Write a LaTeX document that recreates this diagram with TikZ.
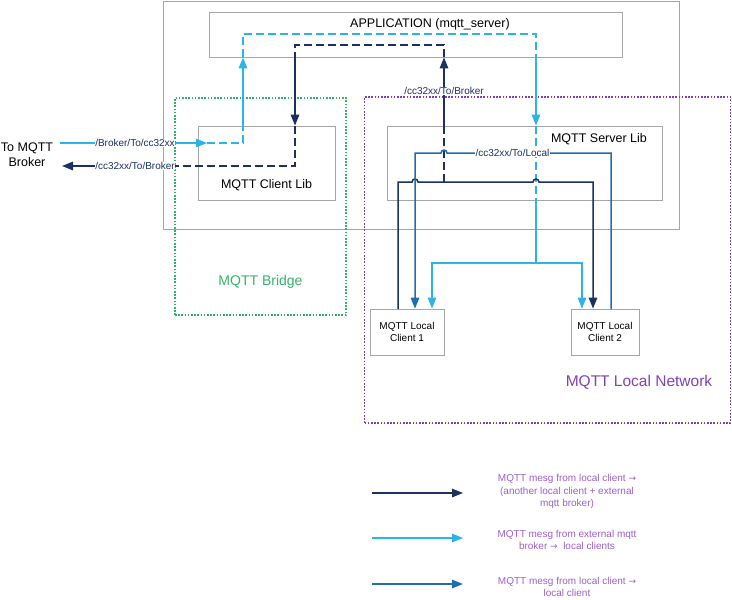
\documentclass[tikz,border=0pt]{standalone}
\usepackage{fontspec}
\setmainfont{Liberation Sans}
\newfontfamily\arrowfont{DejaVu Sans}
\newcommand{\rarr}{{\arrowfont\fontsize{9}{12}\selectfont →}}
\usetikzlibrary{arrows.meta}
\definecolor{navy}{HTML}{1B3160}
\definecolor{cyanL}{HTML}{2DB4E6}
\definecolor{blueM}{HTML}{1F6DB2}
\definecolor{boxgray}{HTML}{A6A6A6}
\definecolor{bridgegreen}{HTML}{33B36B}
\definecolor{netpurple}{HTML}{8340B3}
\definecolor{legpurple}{HTML}{9A5FCC}
\begin{document}
\begin{tikzpicture}[x=1pt,y=-1pt,
  box/.style={draw=boxgray,line width=0.8pt,fill=white,inner sep=0pt},
  frame/.style={line width=1.6pt,dash pattern=on 1.6pt off 1.6pt,inner sep=0pt},
  conn/.style={line width=1.5pt},
  dsh/.style={line width=1.5pt,dash pattern=on 8pt off 4pt},
  tip/.style={-{Triangle[length=11pt,width=8.5pt]}},
  lbl/.style={fill=white,inner sep=0.6pt,font=\fontsize{10}{12}\selectfont},
  boxtext/.style={inner sep=0pt,anchor=base,font=\fontsize{12.5}{15}\selectfont},
  legtext/.style={text=legpurple,align=center,inner sep=0pt,font=\fontsize{10}{12.5}\selectfont}]
\useasboundingbox (0,0) rectangle (732,600);
% boxes
\node[box,minimum width=516pt,minimum height=228pt] (outer) at (421.5,115) {};
\node[box,minimum width=413pt,minimum height=45pt] (app) at (415.5,34.5) {};
\node[boxtext] (apptxt) at (430,27) {APPLICATION (mqtt\_server)};
\node[box,minimum width=137pt,minimum height=74pt] (clientlib) at (266.5,163) {};
\node[boxtext] (cltxt) at (266.5,188) {MQTT Client Lib};
\node[box,minimum width=275pt,minimum height=74pt] (serverlib) at (524.5,163) {};
\node[boxtext] (sltxt) at (599,142) {MQTT Server Lib};
\node[box,minimum width=74pt,minimum height=46pt,align=center,font=\fontsize{10}{12}\selectfont] (client1) at (407,332) {MQTT Local\\Client 1};
\node[box,minimum width=68pt,minimum height=46pt,align=center,font=\fontsize{10}{12}\selectfont] (client2) at (605,332) {MQTT Local\\Client 2};
% frames
\node[frame,draw=bridgegreen,minimum width=171pt,minimum height=217pt] (bridge) at (260.5,206.5) {};
\node[inner sep=0pt,anchor=base,text=bridgegreen,font=\fontsize{14}{16}\selectfont] (bridgetxt) at (260.5,285) {MQTT Bridge};
\node[frame,draw=netpurple,minimum width=366pt,minimum height=326pt] (localnet) at (547.5,260) {};
\node[inner sep=0pt,anchor=base,text=netpurple,font=\fontsize{15.5}{18}\selectfont] (nettxt) at (639,386) {MQTT Local Network};
% broker text
\node[align=center,inner sep=0pt,font=\fontsize{12.5}{15.5}\selectfont] (broker) at (27,154.5) {To MQTT\\Broker};
% coordinates
\coordinate (bkin) at (60,143);
\coordinate (bkout) at (62,166);
% cyan: external broker -> local clients
\draw[cyanL,conn,tip] (bkin) -- (207,143);
\draw[cyanL,dsh] (207,143) -- (243,143) -- (243,126);
\draw[cyanL,conn,tip] (243,126) -- (243,57.4);
\draw[cyanL,dsh] (243,57) -- (243,34) -- (536,34) -- (536,57);
\draw[cyanL,conn,tip] (536,57) -- (536,125.6);
\draw[cyanL,dsh] (536,126) -- (536,200);
\draw[cyanL,conn] (536,200) -- (536,263);
\draw[cyanL,conn,tip] (536,263) -| (432,308.6);
\draw[cyanL,conn,tip] (536,263) -| (582,308.6);
\node[lbl,text=navy] (l1) at (135,143) {/Broker/To/cc32xx};
% navy: local client -> other local client + broker
\draw[navy,conn,tip,line join=miter] (398,309) -- (398,182) -- (412,182) arc (180:360:3) -- (533,182) arc (180:360:3) -- (593,182) -- (593,308.6);
\draw[navy,dsh] (444,182) -- (444,126);
\draw[navy,conn,tip] (444,126) -- (444,57.4);
\draw[navy,dsh] (444,57) -- (444,45) -- (295,45) -- (295,57);
\draw[navy,conn,tip] (295,57) -- (295,125.6);
\draw[navy,dsh] (295,126) -- (295,166) -- (175,166);
\draw[navy,conn,tip] (175,166) -- (bkout);
\node[lbl,text=navy] (l2) at (135,166) {/cc32xx/To/Broker};
\node[lbl,text=navy] (l3) at (444,91) {/cc32xx/To/Broker};
% medium blue: local client -> local client
\draw[blueM,conn,tip] (611,309) -- (611,153) -- (447,153) arc (0:-180:3) -- (415,153) -- (415,308.6);
\node[lbl,text=navy] (l4) at (512.5,153) {/cc32xx/To/Local};
% legend
\coordinate (la1) at (372,493); \coordinate (lb1) at (463,493);
\coordinate (la2) at (372,538); \coordinate (lb2) at (463,538);
\coordinate (la3) at (372,584); \coordinate (lb3) at (463,584);
\draw[navy,conn,tip] (la1) -- (lb1);
\draw[cyanL,conn,tip] (la2) -- (lb2);
\draw[blueM,conn,tip] (la3) -- (lb3);
\node[legtext] (t1) at (567,491.5) {MQTT mesg from local client \rarr\\(another local client + external\\mqtt broker)};
\node[legtext] (t2) at (567,540) {MQTT mesg from external mqtt\\broker \rarr\ \ local clients};
\node[legtext] (t3) at (567,587) {MQTT mesg from local client \rarr\\local client};
\end{tikzpicture}
\end{document}
